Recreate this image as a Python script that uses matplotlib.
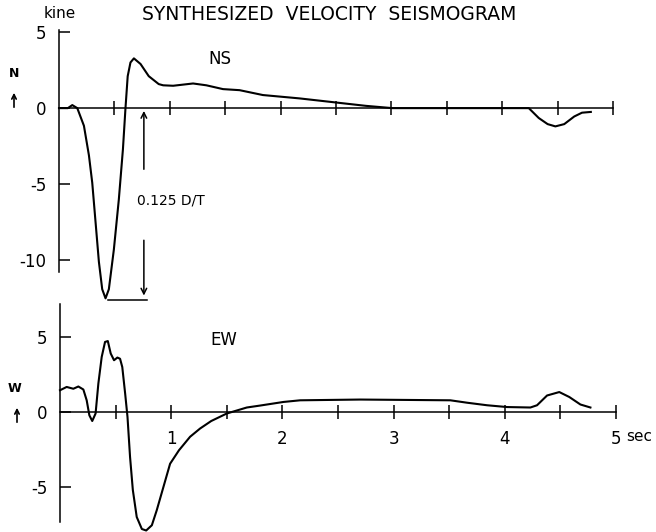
import matplotlib
matplotlib.use('Agg')
import matplotlib.pyplot as plt
import numpy as np

# NS component (kine)
ns_t = [0.0, 0.08, 0.12, 0.165, 0.225, 0.27, 0.30, 0.33, 0.36, 0.39, 0.42, 0.45,
        0.495, 0.54, 0.577, 0.60, 0.62, 0.645, 0.676, 0.736, 0.81, 0.90, 0.94,
        1.03, 1.21, 1.33, 1.48, 1.63, 1.84, 2.17, 2.50, 2.77, 3.01, 3.5, 4.0,
        4.24, 4.33, 4.41, 4.48, 4.56, 4.65, 4.72, 4.80]
ns_v = [0.0, 0.0, 0.2, 0.0, -1.16, -3.1, -4.9, -7.5, -10.1, -11.9, -12.5, -11.9,
        -9.3, -6.0, -2.7, 0.0, 2.1, 3.0, 3.27, 2.9, 2.1, 1.58, 1.5,
        1.47, 1.62, 1.5, 1.25, 1.18, 0.86, 0.64, 0.37, 0.15, 0.0, 0.0, 0.0,
        0.0, -0.65, -1.05, -1.2, -1.05, -0.55, -0.3, -0.25]

# EW component (kine)
ew_t = [0.0, 0.06, 0.12, 0.165, 0.21, 0.24, 0.264, 0.29, 0.32, 0.345, 0.375,
        0.405, 0.43, 0.456, 0.486, 0.516, 0.54, 0.56, 0.586, 0.607, 0.63, 0.655,
        0.69, 0.736, 0.775, 0.826, 0.87, 0.93, 0.99, 1.07, 1.17, 1.26, 1.36, 1.50,
        1.68, 1.80, 2.01, 2.16, 2.70, 3.51, 3.66, 3.84, 4.02, 4.23, 4.29, 4.38,
        4.49, 4.58, 4.68, 4.77]
ew_v = [1.45, 1.67, 1.55, 1.7, 1.5, 0.78, -0.22, -0.6, -0.1, 1.9, 3.67,
        4.67, 4.73, 3.9, 3.45, 3.63, 3.55, 3.0, 1.22, -0.33, -3.0, -5.2,
        -7.0, -7.8, -7.9, -7.55, -6.55, -5.0, -3.45, -2.55, -1.65, -1.1, -0.6, -0.1,
        0.3, 0.43, 0.67, 0.78, 0.83, 0.78, 0.62, 0.45, 0.33, 0.3, 0.45, 1.1,
        1.33, 1.0, 0.5, 0.3]

ns_yticks = [5, 0, -5, -10]
ns_ylabels = ['5', '0', '-5', '-10']
ew_yticks = [5, 0, -5]
ew_ylabels = ['5', '0', '-5']
ew_xlabels = ['1', '2', '3', '4', '5']

W, H = 656, 532
fig = plt.figure(figsize=(W / 100, H / 100), dpi=100)
fs = 12


def make_axes(left, right, top, bottom, ylim, ybounds):
    ax = fig.add_axes([left / W, 1 - bottom / H, (right - left) / W, (bottom - top) / H])
    ax.patch.set_alpha(0)
    ax.set_xlim(0, 5)
    ax.set_ylim(*ylim)
    for s in ['top', 'right']:
        ax.spines[s].set_visible(False)
    ax.spines['bottom'].set_position(('data', 0))
    ax.spines['left'].set_bounds(*ybounds)
    for s in ['bottom', 'left']:
        ax.spines[s].set_linewidth(1.1)
    ax.set_xticks(np.arange(0.5, 5.01, 0.5))
    ax.tick_params(axis='x', direction='inout', length=10, width=1.1)
    ax.tick_params(axis='y', direction='in', length=8, width=1.1, pad=9, labelsize=fs)
    return ax


# top panel: NS
ax1 = make_axes(59, 613, 29, 309, (-13.2, 5.2), (-10.8, 5.13))
ax1.set_xticklabels([])
ax1.set_yticks(ns_yticks)
ax1.set_yticklabels(ns_ylabels)
ax1.plot(ns_t, ns_v, color='black', lw=1.5, clip_on=False, solid_joinstyle='round')
ax1.text(1.45, 3.2, 'NS', fontsize=fs, ha='center', va='center')

# 0.125 D/T amplitude marker
xa = 0.766
ax1.annotate('', xy=(xa, 0), xytext=(xa, -4.2),
             arrowprops=dict(arrowstyle='->', color='black', lw=1.1))
ax1.annotate('', xy=(xa, -12.5), xytext=(xa, -8.5),
             arrowprops=dict(arrowstyle='->', color='black', lw=1.1))
ax1.plot([0.44, 0.79], [-12.6, -12.6], color='black', lw=1.1)
ax1.text(0.70, -6.05, '0.125 D/T', fontsize=10, ha='left', va='center')

# bottom panel: EW
ax2 = make_axes(60, 616, 299.5, 532, (-8.0, 7.5), (-7.33, 7.2))
ax2.set_xticks([1, 2, 3, 4, 5])
ax2.set_xticks(np.arange(0.5, 5.0, 1.0), minor=True)
ax2.set_xticklabels(ew_xlabels)
ax2.tick_params(axis='x', which='both', direction='inout', length=10, width=1.1,
                pad=8, labelsize=fs)
ax2.set_yticks(ew_yticks)
ax2.set_yticklabels(ew_ylabels)
ax2.plot(ew_t, ew_v, color='black', lw=1.5, clip_on=False, solid_joinstyle='round')
ax2.text(1.47, 4.8, 'EW', fontsize=fs, ha='center', va='center')
ax2.text(5.09, -1.65, 'sec', fontsize=11, ha='left', va='center')

# labels around the axes
fig.text(60 / W, 1 - 14 / H, 'kine', fontsize=fs - 1, ha='center', va='center')
fig.text(329 / W, 1 - 14 / H, 'SYNTHESIZED  VELOCITY  SEISMOGRAM', fontsize=13.5,
         ha='center', va='center')
fig.text(14 / W, 1 - 73 / H, 'N', fontsize=9, ha='center', va='center', weight='bold')
fig.text(15 / W, 1 - 388 / H, 'W', fontsize=9, ha='center', va='center', weight='bold')
fig.add_artist(matplotlib.patches.FancyArrowPatch(
    (14 / W, 1 - 110 / H), (14 / W, 1 - 90 / H), transform=fig.transFigure,
    arrowstyle='->', mutation_scale=8, color='black', lw=1.2))
fig.add_artist(matplotlib.patches.FancyArrowPatch(
    (17 / W, 1 - 425 / H), (17 / W, 1 - 405 / H), transform=fig.transFigure,
    arrowstyle='->', mutation_scale=8, color='black', lw=1.2))

fig.savefig('out.png', dpi=100, facecolor='white')
